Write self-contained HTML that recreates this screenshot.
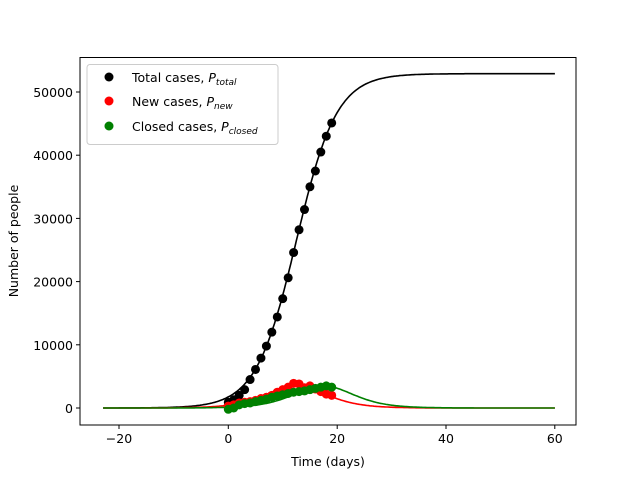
<!DOCTYPE html>
<html><head><meta charset="utf-8"><style>body{margin:0;background:#fff}svg{display:block;font-family:"DejaVu Sans","Liberation Sans",sans-serif}</style></head>
<body>
<svg id="s" width="640" height="478" xmlns="http://www.w3.org/2000/svg">
<rect x="80" y="57.5" width="496" height="367.5" fill="none" stroke="#000" stroke-width="1"/>
<g font-size="12.5" text-anchor="middle" fill="#000">
<line x1="119" y1="425" x2="119" y2="429" stroke="#000"/><text x="119" y="443">−20</text>
<line x1="228.3" y1="425" x2="228.3" y2="429" stroke="#000"/><text x="228.3" y="443">0</text>
<line x1="337.2" y1="425" x2="337.2" y2="429" stroke="#000"/><text x="337.2" y="443">20</text>
<line x1="446" y1="425" x2="446" y2="429" stroke="#000"/><text x="446" y="443">40</text>
<line x1="554.8" y1="425" x2="554.8" y2="429" stroke="#000"/><text x="554.8" y="443">60</text>
<text x="328" y="466">Time (days)</text>
</g>
<g font-size="12.5" text-anchor="end" fill="#000">
<line x1="76" y1="408" x2="80" y2="408" stroke="#000"/><text x="73" y="413">0</text>
<line x1="76" y1="344.8" x2="80" y2="344.8" stroke="#000"/><text x="73" y="349.8">10000</text>
<line x1="76" y1="281.6" x2="80" y2="281.6" stroke="#000"/><text x="73" y="286.6">20000</text>
<line x1="76" y1="218.4" x2="80" y2="218.4" stroke="#000"/><text x="73" y="223.4">30000</text>
<line x1="76" y1="155.2" x2="80" y2="155.2" stroke="#000"/><text x="73" y="160.2">40000</text>
<line x1="76" y1="92" x2="80" y2="92" stroke="#000"/><text x="73" y="97">50000</text>
</g>
<text transform="translate(18,241) rotate(-90)" font-size="12.5" text-anchor="middle">Number of people</text>
<g id="data"></g>
<rect x="87" y="64.5" width="191" height="80" rx="3" fill="#fff" fill-opacity="0.8" stroke="#ccc"/>
<circle cx="109" cy="77" r="4.5" fill="#000"/>
<circle cx="109" cy="101" r="4.5" fill="#f00"/>
<circle cx="109" cy="126" r="4.5" fill="#008000"/>
<g font-size="12.5">
<text x="132" y="82">Total cases, <tspan font-style="italic">P</tspan><tspan font-style="italic" font-size="9" dy="3">total</tspan></text>
<text x="132" y="106">New cases, <tspan font-style="italic">P</tspan><tspan font-style="italic" font-size="9" dy="3">new</tspan></text>
<text x="132" y="131">Closed cases, <tspan font-style="italic">P</tspan><tspan font-style="italic" font-size="9" dy="3">closed</tspan></text>
</g>
</svg>
<script>
var NS="http://www.w3.org/2000/svg",g=document.getElementById("data");
function X(t){return 228.3+t*5.4425}function Y(v){return 408-v*0.00632}
var K=52900,k=0.27,t0=12.5;
function P(t){return K/(1+Math.exp(-k*(t-t0)))}
function D(t){var p=P(t);return k*p*(1-p/K)}
function path(f,c){var d="";for(var t=-23;t<=60;t+=0.25){d+=(d?"L":"M")+X(t).toFixed(1)+","+Y(f(t)).toFixed(1)}var e=document.createElementNS(NS,"path");e.setAttribute("d",d);e.setAttribute("fill","none");e.setAttribute("stroke",c);e.setAttribute("stroke-width","1.6");g.appendChild(e)}
function dots(a,c){a.forEach(function(v,i){var e=document.createElementNS(NS,"circle");e.setAttribute("cx",X(i));e.setAttribute("cy",Y(v));e.setAttribute("r","4.5");e.setAttribute("fill",c);g.appendChild(e)})}
path(P,"#000");path(D,"#f00");path(function(t){return D(t-5)*0.98},"#008000");
dots([900,1300,2000,2900,4500,6100,7900,9800,12000,14400,17300,20600,24600,28200,31400,35000,37500,40500,43000,45100],"#000");
dots([300,500,800,900,1000,1200,1500,1700,2000,2500,2900,3300,3900,3800,3200,3500,3000,2600,2200,2000],"#f00");
dots([-200,0,500,700,800,1000,1200,1400,1700,1900,2100,2300,2500,2600,2700,2900,3100,3300,3500,3300],"#008000");
</script>
</body></html>
